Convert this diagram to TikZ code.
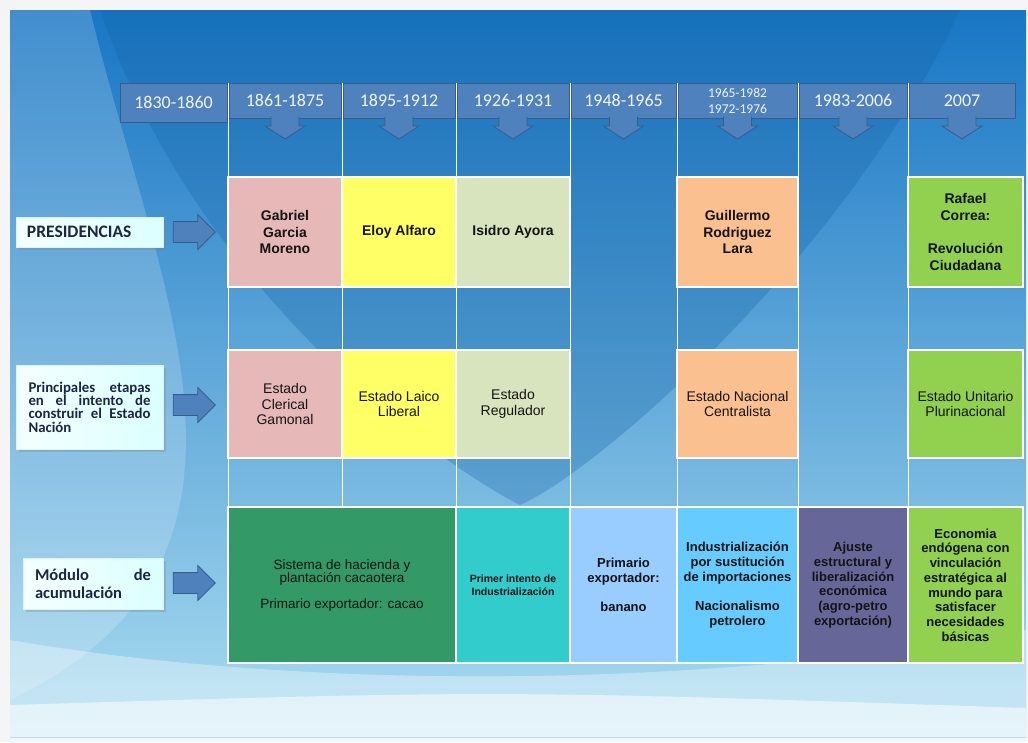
\documentclass[tikz,border=0pt]{standalone}
\usepackage{fontspec}
\setmainfont{Liberation Sans}
\newfontfamily\calibri{Carlito}
\usepackage{tikz}
\usetikzlibrary{arrows,positioning,shapes,shapes.arrows,shadows,calc}
\definecolor{hdr}{RGB}{79,129,189}
\definecolor{hdrline}{RGB}{56,93,138}
\definecolor{rosa}{RGB}{230,185,184}
\definecolor{amarillo}{RGB}{255,255,102}
\definecolor{salvia}{RGB}{215,228,189}
\definecolor{durazno}{RGB}{250,192,144}
\definecolor{lima}{RGB}{146,208,80}
\definecolor{verde}{RGB}{51,153,102}
\definecolor{turquesa}{RGB}{51,204,204}
\definecolor{celeste}{RGB}{153,204,255}
\definecolor{cielo}{RGB}{102,204,255}
\definecolor{morado}{RGB}{102,102,153}
\definecolor{fondoA}{RGB}{24,118,196}
\definecolor{fondoB}{RGB}{52,178,226}
\definecolor{fondoC}{RGB}{170,220,240}
\definecolor{etiqueta}{RGB}{28,37,65}

\begin{document}
\begin{tikzpicture}[x=1pt,y=-1pt,% one unit = one pixel of the slide, y downwards
		every node/.style={align=center,inner sep=2pt},
		hdrbox/.style={rectangle,fill=hdr,draw=hdrline,line width=0.8pt,outer sep=0pt,
			text=white!92!hdr,minimum height=35pt,font=\calibri\fontsize{18}{19}\selectfont},
		hdrsmall/.style={hdrbox,font=\calibri\fontsize{13.5}{16}\selectfont},
		cell/.style={rectangle,draw=white,line width=2.5pt,outer sep=0pt,text=black!92},
		pres/.style={cell,minimum height=110pt,font=\bfseries\fontsize{14}{16.7}\selectfont},
		etapa/.style={cell,minimum height=108pt,font=\fontsize{14}{15.5}\selectfont},
		modulo/.style={cell,minimum height=156pt,font=\bfseries\fontsize{13}{14.7}\selectfont},
		rotulo/.style={rectangle,draw=cyan!15,left color=white!96!cyan,right color=cyan!14,
			drop shadow={opacity=0.3},text=etiqueta,align=left},
		flecha/.style={single arrow,single arrow head extend=7pt,minimum height=42pt,
			inner sep=0pt,fill=hdr,draw=hdrline,line width=0.8pt}
	]
	\useasboundingbox (0,0) rectangle (1028,742);
	% background of the slide
	\fill[gray!8] (0,0) rectangle (1028,742);
	\shade[top color=fondoA,middle color=fondoB,bottom color=fondoC] (10,10) rectangle (1026,737);
	\fill[fondoA!85!black,opacity=.3] (100,10) .. controls (200,300) and (450,470) .. (520,505)
		.. controls (600,470) and (850,250) .. (960,10) -- cycle;
	\fill[white,opacity=.18] (10,10) -- (90,10) .. controls (160,300) and (300,560) .. (10,700) -- cycle;
	\fill[white,opacity=.35] (10,640) .. controls (300,690) and (700,690) .. (1026,630) -- (1026,737) -- (10,737) -- cycle;
	\fill[white,opacity=.55] (10,705) .. controls (500,690) .. (1026,708) -- (1026,737) -- (10,737) -- cycle;

	% column lines
	\foreach \x in {228,342,456,570,677,798,908}
		\draw[white,line width=0.8pt] (\x,83) -- (\x,507);

	% time line
	\node[hdrbox,minimum width=107pt,minimum height=39pt](H0) at (173.5,102.5){1830-1860};
	\node[hdrbox,minimum width=112pt](H1) at (285,100.5){1861-1875};
	\foreach \n/\w/\s/\t in {2/112/hdrbox/1895-1912,3/112/hdrbox/1926-1931,4/105/hdrbox/1948-1965,
		5/119/hdrsmall/{1965-1982\\1972-1976},6/108/hdrbox/1983-2006,7/106/hdrbox/2007}{
		\pgfmathtruncatemacro\prev{\n-1}
		\node[\s,minimum width=\w pt,right=2pt of H\prev](H\n){\t};
	}
	\foreach \n in {1,...,7}
		\filldraw[fill=hdr,draw=hdrline,line width=0.8pt] ($(H\n.south)+(-14,-1.5)$) -- ++(0,9.5)
			-- ++(-6,0) -- ++(20,13) -- ++(20,-13) -- ++(-6,0) -- ++(0,-9.5);

	% row labels
	\node[rotulo,minimum width=147pt,minimum height=30pt,text width=125pt,
		font=\calibri\bfseries\fontsize{17.5}{18}\selectfont](L1) at (89.5,232){PRESIDENCIAS};
	\node[rotulo,minimum width=147pt,minimum height=84pt,text width=122pt,
		font=\calibri\bfseries\fontsize{14.8}{13.4}\selectfont](L2) at (89.5,407)
		{\lineskiplimit=-6pt Principales\hfill etapas\\en\hfill el\hfill intento\hfill de\\construir\hfill el\hfill Estado\\Nación};
	\node[rotulo,minimum width=140pt,minimum height=51pt,text width=116pt,
		font=\calibri\bfseries\fontsize{16.5}{18}\selectfont](L3) at (93,583.5){Módulo\hfill de\\acumulación};
	\node[flecha](A1) at (189,232){\rule{0pt}{20pt}};
	\node[flecha](A2) at (189,405){\rule{0pt}{20pt}};
	\node[flecha](A3) at (189,583){\rule{0pt}{20pt}};

	% presidencias
	\node[pres,fill=rosa,minimum width=114pt](P1) at (285,232){Gabriel\\Garcia\\Moreno};
	\node[pres,fill=amarillo,minimum width=114pt,right=0pt of P1](P2){Eloy Alfaro};
	\node[pres,fill=salvia,minimum width=114pt,right=0pt of P2](P3){Isidro Ayora};
	\node[pres,fill=durazno,minimum width=121pt](P4) at (737.5,232){Guillermo\\Rodriguez\\Lara};
	\node[pres,fill=lima,minimum width=115pt](P5) at (965.5,232){Rafael\\Correa:\\[16.7pt]Revolución\\Ciudadana};

	% etapas del Estado
	\node[etapa,fill=rosa,minimum width=114pt](E1) at (285,404){Estado\\Clerical\\Gamonal};
	\node[etapa,fill=amarillo,minimum width=114pt,right=0pt of E1](E2){Estado Laico\\Liberal};
	\node[etapa,fill=salvia,minimum width=114pt,right=0pt of E2](E3){Estado\\Regulador};
	\node[etapa,fill=durazno,minimum width=121pt](E4) at (737.5,404){Estado Nacional\\Centralista};
	\node[etapa,fill=lima,minimum width=115pt](E5) at (965.5,404){Estado Unitario\\Plurinacional};

	% modulo de acumulacion
	\node[modulo,fill=verde,minimum width=228pt,font=\fontsize{13.5}{14}\selectfont](M1) at (342,585)
		{Sistema de hacienda y\\plantación cacaotera\\[11pt]Primario exportador: cacao};
	\node[modulo,fill=turquesa,minimum width=114pt,right=0pt of M1,
		font=\bfseries\fontsize{10.5}{13}\selectfont](M2){Primer intento de\\Industrialización};
	\node[modulo,fill=celeste,minimum width=107pt,right=0pt of M2](M3){Primario\\exportador:\\[14.7pt]banano};
	\node[modulo,fill=cielo,minimum width=121pt,right=0pt of M3](M4)
		{Industrialización\\por sustitución\\de importaciones\\[14.7pt]Nacionalismo\\petrolero};
	\node[modulo,fill=morado,minimum width=110pt,right=0pt of M4](M5)
		{Ajuste\\estructural y\\liberalización\\económica\\(agro-petro\\exportación)};
	\node[modulo,fill=lima,minimum width=115pt,right=0pt of M5](M6)
		{Economia\\endógena con\\vinculación\\estratégica al\\mundo para\\satisfacer\\necesidades\\básicas};
\end{tikzpicture}
\end{document}
